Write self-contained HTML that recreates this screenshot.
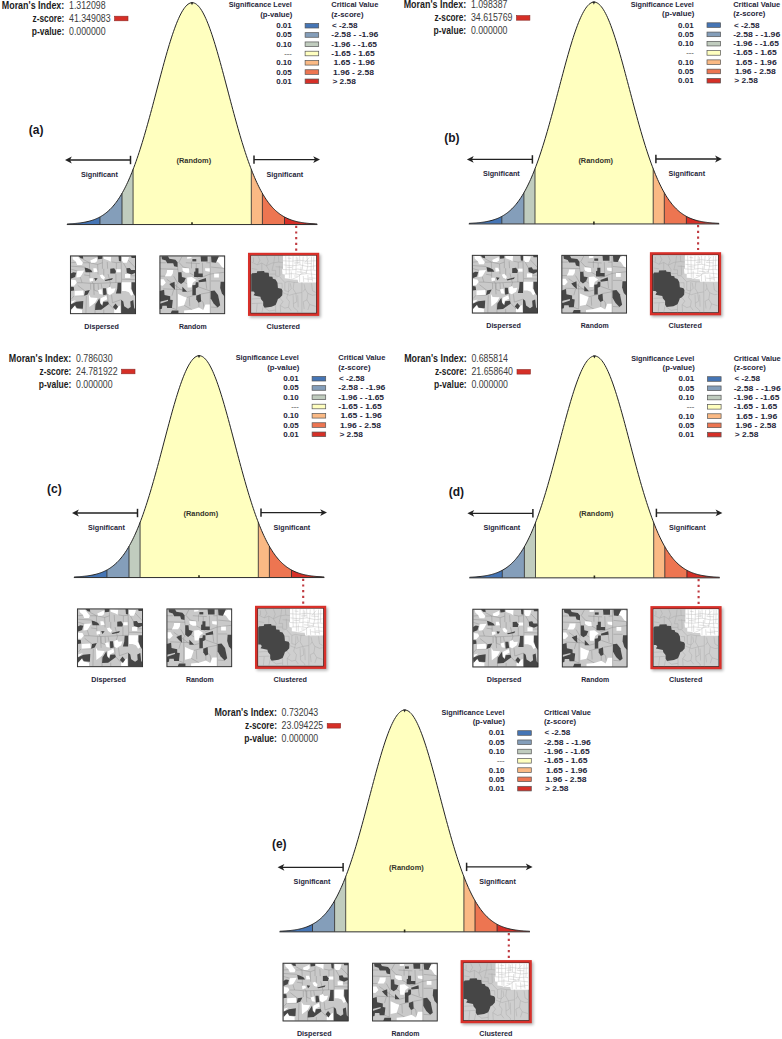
<!DOCTYPE html>
<html>
<head>
<meta charset="utf-8">
<title>Spatial Autocorrelation Report</title>
<style>
html,body{margin:0;padding:0;background:#ffffff;}
body{width:782px;height:1039px;overflow:hidden;}
svg{display:block;font-family:"Liberation Sans", sans-serif;}
text{font-family:"Liberation Sans", sans-serif;}
</style>
</head>
<body>
<svg width="782" height="1039" viewBox="0 0 782 1039">
<defs><filter id="sh" x="-20%" y="-20%" width="150%" height="150%"><feGaussianBlur stdDeviation="1.6"/></filter>
<g id="P">
<text x="64.30" y="8.60" font-size="10" font-weight="bold" text-anchor="end" fill="#1c1c1c" textLength="62.50" lengthAdjust="spacingAndGlyphs">Moran's Index:</text>
<text x="64.30" y="21.80" font-size="10" font-weight="bold" text-anchor="end" fill="#1c1c1c" textLength="31.80" lengthAdjust="spacingAndGlyphs">z-score:</text>
<rect x="114.6" y="16.2" width="13.4" height="4.6" fill="#D62F27" stroke="#8c2a26" stroke-width="0.6"/>
<text x="64.30" y="35.00" font-size="10" font-weight="bold" text-anchor="end" fill="#1c1c1c" textLength="32.60" lengthAdjust="spacingAndGlyphs">p-value:</text>
<text x="69.00" y="35.00" font-size="10" font-weight="normal" text-anchor="start" fill="#3c3c3c" textLength="36.60" lengthAdjust="spacingAndGlyphs">0.000000</text>
<text x="291.80" y="7.30" font-size="7.5" font-weight="bold" text-anchor="end" fill="#26263a" textLength="63.00" lengthAdjust="spacingAndGlyphs">Significance Level</text>
<text x="292.40" y="17.00" font-size="7.5" font-weight="bold" text-anchor="end" fill="#26263a" textLength="32.20" lengthAdjust="spacingAndGlyphs">(p-value)</text>
<text x="331.30" y="7.30" font-size="7.5" font-weight="bold" text-anchor="start" fill="#26263a" textLength="47.00" lengthAdjust="spacingAndGlyphs">Critical Value</text>
<text x="331.30" y="17.00" font-size="7.5" font-weight="bold" text-anchor="start" fill="#26263a" textLength="32.20" lengthAdjust="spacingAndGlyphs">(z-score)</text>
<text x="291.80" y="28.20" font-size="7.5" font-weight="bold" text-anchor="end" fill="#26263a" textLength="15.60" lengthAdjust="spacingAndGlyphs">0.01</text>
<rect x="305.1" y="23.40" width="13.6" height="4.6" fill="#4575B5" stroke="#555" stroke-width="0.7"/>
<text x="332.00" y="28.20" font-size="7.5" font-weight="bold" text-anchor="start" fill="#26263a" textLength="25.60" lengthAdjust="spacingAndGlyphs">&lt; -2.58</text>
<text x="291.80" y="37.47" font-size="7.5" font-weight="bold" text-anchor="end" fill="#26263a" textLength="15.60" lengthAdjust="spacingAndGlyphs">0.05</text>
<rect x="305.1" y="32.67" width="13.6" height="4.6" fill="#849EBA" stroke="#555" stroke-width="0.7"/>
<text x="331.30" y="37.47" font-size="7.5" font-weight="bold" text-anchor="start" fill="#26263a" textLength="47.00" lengthAdjust="spacingAndGlyphs">-2.58 - -1.96</text>
<text x="291.80" y="46.74" font-size="7.5" font-weight="bold" text-anchor="end" fill="#26263a" textLength="15.60" lengthAdjust="spacingAndGlyphs">0.10</text>
<rect x="305.1" y="41.94" width="13.6" height="4.6" fill="#C0CCBE" stroke="#555" stroke-width="0.7"/>
<text x="331.30" y="46.74" font-size="7.5" font-weight="bold" text-anchor="start" fill="#26263a" textLength="45.70" lengthAdjust="spacingAndGlyphs">-1.96 - -1.65</text>
<text x="291.80" y="56.01" font-size="7.5" font-weight="bold" text-anchor="end" fill="#888" textLength="7.50" lengthAdjust="spacingAndGlyphs">---</text>
<rect x="305.1" y="51.21" width="13.6" height="4.6" fill="#FFFFBF" stroke="#555" stroke-width="0.7"/>
<text x="331.30" y="56.01" font-size="7.5" font-weight="bold" text-anchor="start" fill="#26263a" textLength="43.50" lengthAdjust="spacingAndGlyphs">-1.65 - 1.65</text>
<text x="291.80" y="65.28" font-size="7.5" font-weight="bold" text-anchor="end" fill="#26263a" textLength="15.60" lengthAdjust="spacingAndGlyphs">0.10</text>
<rect x="305.1" y="60.48" width="13.6" height="4.6" fill="#FAB984" stroke="#555" stroke-width="0.7"/>
<text x="333.50" y="65.28" font-size="7.5" font-weight="bold" text-anchor="start" fill="#26263a" textLength="41.30" lengthAdjust="spacingAndGlyphs">1.65 - 1.96</text>
<text x="291.80" y="74.55" font-size="7.5" font-weight="bold" text-anchor="end" fill="#26263a" textLength="15.60" lengthAdjust="spacingAndGlyphs">0.05</text>
<rect x="305.1" y="69.75" width="13.6" height="4.6" fill="#ED7551" stroke="#555" stroke-width="0.7"/>
<text x="333.00" y="74.55" font-size="7.5" font-weight="bold" text-anchor="start" fill="#26263a" textLength="40.90" lengthAdjust="spacingAndGlyphs">1.96 - 2.58</text>
<text x="291.80" y="83.82" font-size="7.5" font-weight="bold" text-anchor="end" fill="#26263a" textLength="15.60" lengthAdjust="spacingAndGlyphs">0.01</text>
<rect x="305.1" y="79.02" width="13.6" height="4.6" fill="#D62F27" stroke="#555" stroke-width="0.7"/>
<text x="332.40" y="83.82" font-size="7.5" font-weight="bold" text-anchor="start" fill="#26263a" textLength="23.50" lengthAdjust="spacingAndGlyphs">&gt; 2.58</text>
<polygon points="67.24,224.40 67.24,223.96 68.05,223.93 68.87,223.89 69.69,223.84 70.50,223.80 71.32,223.75 72.14,223.70 72.95,223.64 73.77,223.58 74.59,223.51 75.40,223.44 76.22,223.37 77.04,223.28 77.85,223.20 78.67,223.10 79.49,223.01 80.30,222.90 81.12,222.79 81.94,222.67 82.75,222.54 83.57,222.40 84.39,222.25 85.20,222.10 86.02,221.93 86.84,221.76 87.65,221.57 88.47,221.37 89.28,221.16 90.10,220.94 90.92,220.70 91.73,220.45 92.55,220.18 93.37,219.90 94.18,219.60 95.00,219.29 95.82,218.95 96.63,218.60 97.45,218.23 98.27,217.84 99.08,217.43 99.90,216.99 99.90,224.40" fill="#4575B5"/>
<polygon points="99.90,224.40 99.90,216.99 100.45,216.69 101.00,216.37 101.56,216.04 102.11,215.70 102.66,215.35 103.21,214.99 103.77,214.61 104.32,214.22 104.87,213.82 105.42,213.41 105.98,212.98 106.53,212.54 107.08,212.09 107.63,211.62 108.19,211.13 108.74,210.64 109.29,210.12 109.84,209.59 110.40,209.05 110.95,208.48 111.50,207.90 112.05,207.31 112.61,206.70 113.16,206.07 113.71,205.42 114.26,204.75 114.82,204.07 115.37,203.37 115.92,202.64 116.47,201.90 117.03,201.14 117.58,200.36 118.13,199.56 118.68,198.74 119.24,197.90 119.79,197.03 120.34,196.15 120.89,195.24 121.45,194.32 122.00,193.37 122.00,224.40" fill="#849EBA"/>
<polygon points="122.00,224.40 122.00,193.37 122.28,192.88 122.55,192.39 122.83,191.89 123.11,191.39 123.39,190.88 123.66,190.37 123.94,189.85 124.22,189.33 124.50,188.79 124.77,188.26 125.05,187.72 125.33,187.17 125.61,186.61 125.88,186.05 126.16,185.49 126.44,184.91 126.72,184.34 126.99,183.75 127.27,183.16 127.55,182.57 127.83,181.96 128.10,181.36 128.38,180.74 128.66,180.12 128.94,179.50 129.21,178.86 129.49,178.23 129.77,177.58 130.05,176.93 130.32,176.28 130.60,175.61 130.88,174.95 131.16,174.27 131.44,173.59 131.71,172.90 131.99,172.21 132.27,171.51 132.54,170.81 132.82,170.10 133.10,169.38 133.10,224.40" fill="#C0CCBE"/>
<polygon points="133.10,224.40 133.10,169.38 136.05,161.37 139.01,152.70 141.96,143.40 144.92,133.53 147.88,123.17 150.83,112.40 153.78,101.36 156.74,90.16 159.69,78.96 162.65,67.92 165.60,57.21 168.56,47.01 171.51,37.49 174.47,28.83 177.42,21.19 180.38,14.72 183.33,9.54 186.29,5.77 189.25,3.47 192.20,2.70 195.16,3.47 198.11,5.77 201.06,9.54 204.02,14.72 206.97,21.19 209.93,28.83 212.88,37.49 215.84,47.01 218.79,57.21 221.75,67.92 224.70,78.96 227.66,90.16 230.61,101.36 233.57,112.40 236.53,123.17 239.48,133.53 242.44,143.40 245.39,152.70 248.34,161.37 251.30,169.38 251.30,224.40" fill="#FFFFBF"/>
<polygon points="251.30,224.40 251.30,169.38 251.58,170.10 251.85,170.81 252.13,171.51 252.41,172.21 252.69,172.90 252.96,173.59 253.24,174.27 253.52,174.95 253.80,175.61 254.07,176.28 254.35,176.93 254.63,177.58 254.91,178.23 255.19,178.86 255.46,179.50 255.74,180.12 256.02,180.74 256.30,181.36 256.57,181.96 256.85,182.57 257.13,183.16 257.40,183.75 257.68,184.34 257.96,184.91 258.24,185.49 258.51,186.05 258.79,186.61 259.07,187.17 259.35,187.72 259.62,188.26 259.90,188.79 260.18,189.33 260.46,189.85 260.74,190.37 261.01,190.88 261.29,191.39 261.57,191.89 261.84,192.39 262.12,192.88 262.40,193.37 262.40,224.40" fill="#FAB984"/>
<polygon points="262.40,224.40 262.40,193.37 262.95,194.32 263.50,195.24 264.06,196.15 264.61,197.03 265.16,197.90 265.71,198.74 266.27,199.56 266.82,200.36 267.37,201.14 267.93,201.90 268.48,202.64 269.03,203.37 269.58,204.07 270.13,204.75 270.69,205.42 271.24,206.07 271.79,206.70 272.35,207.31 272.90,207.90 273.45,208.48 274.00,209.05 274.56,209.59 275.11,210.12 275.66,210.64 276.21,211.13 276.76,211.62 277.32,212.09 277.87,212.54 278.42,212.98 278.98,213.41 279.53,213.82 280.08,214.22 280.63,214.61 281.18,214.99 281.74,215.35 282.29,215.70 282.84,216.04 283.39,216.37 283.95,216.69 284.50,216.99 284.50,224.40" fill="#ED7551"/>
<polygon points="284.50,224.40 284.50,216.99 285.32,217.43 286.13,217.84 286.95,218.23 287.77,218.60 288.58,218.95 289.40,219.29 290.22,219.60 291.03,219.90 291.85,220.18 292.67,220.45 293.48,220.70 294.30,220.94 295.12,221.16 295.93,221.37 296.75,221.57 297.56,221.76 298.38,221.93 299.20,222.10 300.01,222.25 300.83,222.40 301.65,222.54 302.46,222.67 303.28,222.79 304.10,222.90 304.91,223.01 305.73,223.10 306.55,223.20 307.36,223.28 308.18,223.37 309.00,223.44 309.81,223.51 310.63,223.58 311.45,223.64 312.26,223.70 313.08,223.75 313.90,223.80 314.71,223.84 315.53,223.89 316.35,223.93 317.16,223.96 317.16,224.40" fill="#D62F27"/>
<line x1="99.90" y1="216.99" x2="99.90" y2="224.40" stroke="#222" stroke-width="0.8"/>
<line x1="122.00" y1="193.37" x2="122.00" y2="224.40" stroke="#222" stroke-width="0.8"/>
<line x1="133.10" y1="169.38" x2="133.10" y2="224.40" stroke="#222" stroke-width="0.8"/>
<line x1="251.30" y1="169.38" x2="251.30" y2="224.40" stroke="#222" stroke-width="0.8"/>
<line x1="262.40" y1="193.37" x2="262.40" y2="224.40" stroke="#222" stroke-width="0.8"/>
<line x1="284.50" y1="216.99" x2="284.50" y2="224.40" stroke="#222" stroke-width="0.8"/>
<polyline points="67.24,223.96 68.28,223.92 69.32,223.86 70.36,223.81 71.40,223.74 72.44,223.67 73.49,223.60 74.53,223.52 75.57,223.43 76.61,223.33 77.65,223.22 78.69,223.10 79.73,222.97 80.78,222.84 81.82,222.68 82.86,222.52 83.90,222.34 84.94,222.15 85.98,221.94 87.02,221.72 88.06,221.47 89.11,221.21 90.15,220.92 91.19,220.62 92.23,220.29 93.27,219.93 94.31,219.55 95.35,219.15 96.40,218.71 97.44,218.24 98.48,217.74 99.52,217.20 100.56,216.63 101.60,216.01 102.64,215.36 103.69,214.67 104.73,213.93 105.77,213.15 106.81,212.31 107.85,211.43 108.89,210.50 109.93,209.50 110.97,208.46 112.02,207.35 113.06,206.19 114.10,204.96 115.14,203.66 116.18,202.30 117.22,200.87 118.26,199.37 119.31,197.79 120.35,196.14 121.39,194.42 122.43,192.61 123.47,190.73 124.51,188.77 125.55,186.72 126.59,184.59 127.64,182.38 128.68,180.08 129.72,177.70 130.76,175.23 131.80,172.68 132.84,170.04 133.88,167.32 134.93,164.51 135.97,161.62 137.01,158.64 138.05,155.59 139.09,152.45 140.13,149.24 141.17,145.95 142.22,142.59 143.26,139.15 144.30,135.65 145.34,132.09 146.38,128.46 147.42,124.78 148.46,121.05 149.50,117.27 150.55,113.45 151.59,109.60 152.63,105.71 153.67,101.79 154.71,97.86 155.75,93.91 156.79,89.95 157.84,86.00 158.88,82.05 159.92,78.12 160.96,74.21 162.00,70.32 163.04,66.48 164.08,62.67 165.12,58.92 166.17,55.23 167.21,51.60 168.25,48.05 169.29,44.59 170.33,41.21 171.37,37.93 172.41,34.76 173.46,31.70 174.50,28.76 175.54,25.95 176.58,23.27 177.62,20.73 178.66,18.33 179.70,16.09 180.75,14.01 181.79,12.09 182.83,10.34 183.87,8.75 184.91,7.35 185.95,6.13 186.99,5.09 188.03,4.23 189.08,3.56 190.12,3.08 191.16,2.80 192.20,2.70 193.24,2.80 194.28,3.08 195.32,3.56 196.37,4.23 197.41,5.09 198.45,6.13 199.49,7.35 200.53,8.75 201.57,10.34 202.61,12.09 203.65,14.01 204.70,16.09 205.74,18.33 206.78,20.73 207.82,23.27 208.86,25.95 209.90,28.76 210.94,31.70 211.99,34.76 213.03,37.93 214.07,41.21 215.11,44.59 216.15,48.05 217.19,51.60 218.23,55.23 219.28,58.92 220.32,62.67 221.36,66.48 222.40,70.32 223.44,74.21 224.48,78.12 225.52,82.05 226.56,86.00 227.61,89.95 228.65,93.91 229.69,97.86 230.73,101.79 231.77,105.71 232.81,109.60 233.85,113.45 234.90,117.27 235.94,121.05 236.98,124.78 238.02,128.46 239.06,132.09 240.10,135.65 241.14,139.15 242.18,142.59 243.23,145.95 244.27,149.24 245.31,152.45 246.35,155.59 247.39,158.64 248.43,161.62 249.47,164.51 250.52,167.32 251.56,170.04 252.60,172.68 253.64,175.23 254.68,177.70 255.72,180.08 256.76,182.38 257.81,184.59 258.85,186.72 259.89,188.77 260.93,190.73 261.97,192.61 263.01,194.42 264.05,196.14 265.09,197.79 266.14,199.37 267.18,200.87 268.22,202.30 269.26,203.66 270.30,204.96 271.34,206.19 272.38,207.35 273.43,208.46 274.47,209.50 275.51,210.50 276.55,211.43 277.59,212.31 278.63,213.15 279.67,213.93 280.71,214.67 281.76,215.36 282.80,216.01 283.84,216.63 284.88,217.20 285.92,217.74 286.96,218.24 288.00,218.71 289.05,219.15 290.09,219.55 291.13,219.93 292.17,220.29 293.21,220.62 294.25,220.92 295.29,221.21 296.33,221.47 297.38,221.72 298.42,221.94 299.46,222.15 300.50,222.34 301.54,222.52 302.58,222.68 303.62,222.84 304.67,222.97 305.71,223.10 306.75,223.22 307.79,223.33 308.83,223.43 309.87,223.52 310.91,223.60 311.96,223.67 313.00,223.74 314.04,223.81 315.08,223.86 316.12,223.92 317.16,223.96" fill="none" stroke="#242424" stroke-width="1.0"/>
<line x1="66.84" y1="224.55" x2="317.36" y2="224.55" stroke="#2e2e2e" stroke-width="1.0"/>
<line x1="192.00" y1="222.20" x2="192.00" y2="225.00" stroke="#2a2a1a" stroke-width="1.6"/>
<polygon points="190.60,2.20 193.40,2.20 192.00,5.30" fill="#222"/>
<line x1="68" y1="160.00" x2="130.5" y2="160.00" stroke="#222" stroke-width="1.3"/>
<line x1="130.5" y1="155.80" x2="130.5" y2="164.20" stroke="#222" stroke-width="1.5"/>
<polygon points="65.0,160.00 71.8,156.60 70.0,160.00 71.8,163.40" fill="#222"/>
<line x1="254.0" y1="159.60" x2="317" y2="159.60" stroke="#222" stroke-width="1.3"/>
<line x1="254.0" y1="155.40" x2="254.0" y2="163.80" stroke="#222" stroke-width="1.5"/>
<polygon points="320.0,159.60 313.2,156.20 315.0,159.60 313.2,163.00" fill="#222"/>
<text x="193.80" y="163.20" font-size="7.5" font-weight="bold" text-anchor="middle" fill="#33332a" textLength="34.60" lengthAdjust="spacingAndGlyphs">(Random)</text>
<text x="81.00" y="176.90" font-size="7.5" font-weight="bold" text-anchor="start" fill="#26263a" textLength="36.80" lengthAdjust="spacingAndGlyphs">Significant</text>
<text x="266.60" y="176.90" font-size="7.5" font-weight="bold" text-anchor="start" fill="#26263a" textLength="36.60" lengthAdjust="spacingAndGlyphs">Significant</text>
<line x1="296.2" y1="225.7" x2="296.2" y2="251.5" stroke="#bf3a40" stroke-width="2.1" stroke-dasharray="2.2 3.5"/>
<g transform="translate(70,255.5)"><rect x="0" y="0" width="66" height="58.6" fill="#c9c9c9"/><polyline points="19.39,7.22 19.83,22.87 23.30,28.09 24.17,39.39" fill="none" stroke="#858585" stroke-width="0.4"/><polyline points="1.13,10.70 14.61,11.57" fill="none" stroke="#858585" stroke-width="0.4"/><polyline points="32.43,3.74 32.43,13.30" fill="none" stroke="#858585" stroke-width="0.4"/><polyline points="37.22,6.35 37.65,13.30" fill="none" stroke="#858585" stroke-width="0.4"/><polyline points="41.57,6.35 46.35,7.22 51.13,6.78" fill="none" stroke="#858585" stroke-width="0.4"/><polyline points="51.13,5.91 51.57,26.78" fill="none" stroke="#858585" stroke-width="0.4"/><polyline points="12.00,27.22 23.30,28.09 40.70,27.22 51.57,26.78" fill="none" stroke="#858585" stroke-width="0.4"/><polyline points="40.70,27.22 37.22,38.09" fill="none" stroke="#858585" stroke-width="0.4"/><polyline points="16.35,40.26 15.91,57.65" fill="none" stroke="#858585" stroke-width="0.4"/><polyline points="28.09,28.09 28.52,34.61" fill="none" stroke="#858585" stroke-width="0.4"/><polyline points="33.74,13.30 33.74,19.83" fill="none" stroke="#858585" stroke-width="0.4"/><polyline points="7.65,29.83 15.48,35.91" fill="none" stroke="#858585" stroke-width="0.4"/><polyline points="27.65,8.96 28.09,18.96" fill="none" stroke="#858585" stroke-width="0.4"/><polyline points="45.91,18.52 45.91,27.22" fill="none" stroke="#858585" stroke-width="0.4"/><polyline points="52.00,23.74 65.48,24.17" fill="none" stroke="#858585" stroke-width="0.4"/><polyline points="37.65,40.26 38.09,45.91" fill="none" stroke="#858585" stroke-width="0.4"/><polyline points="41.57,39.39 42.43,47.22 51.13,44.17" fill="none" stroke="#858585" stroke-width="0.4"/><polyline points="1.13,13.74 7.22,15.48" fill="none" stroke="#858585" stroke-width="0.4"/><polyline points="12.87,7.22 19.39,7.22 27.65,8.96 32.43,7.22" fill="none" stroke="#858585" stroke-width="0.4"/><polyline points="10.26,21.57 12.00,27.22" fill="none" stroke="#858585" stroke-width="0.4"/><polyline points="14.17,19.39 19.83,20.26" fill="none" stroke="#858585" stroke-width="0.4"/><polyline points="38.09,18.52 40.26,27.22" fill="none" stroke="#858585" stroke-width="0.4"/><polyline points="58.09,4.61 65.48,12.43" fill="none" stroke="#858585" stroke-width="0.4"/><polyline points="24.17,28.09 24.17,34.61 28.09,35.91" fill="none" stroke="#858585" stroke-width="0.4"/><polyline points="20.70,28.09 20.70,34.17" fill="none" stroke="#858585" stroke-width="0.4"/><polyline points="31.13,28.09 32.00,32.87" fill="none" stroke="#858585" stroke-width="0.4"/><polyline points="5.04,40.26 14.17,40.26" fill="none" stroke="#858585" stroke-width="0.4"/><polyline points="53.30,7.22 56.35,12.87" fill="none" stroke="#858585" stroke-width="0.4"/><polyline points="1.13,7.22 5.91,6.78" fill="none" stroke="#858585" stroke-width="0.4"/><polyline points="12.87,3.74 19.39,7.22" fill="none" stroke="#858585" stroke-width="0.4"/><polyline points="46.35,7.22 46.35,13.74" fill="none" stroke="#858585" stroke-width="0.4"/><polyline points="60.26,20.26 65.48,20.26" fill="none" stroke="#858585" stroke-width="0.4"/><polyline points="6.78,27.22 12.00,27.22" fill="none" stroke="#858585" stroke-width="0.4"/><polyline points="4.17,40.26 1.13,43.74" fill="none" stroke="#858585" stroke-width="0.4"/><polyline points="37.22,38.09 37.65,40.26" fill="none" stroke="#858585" stroke-width="0.4"/><polyline points="25.04,47.22 25.04,57.65" fill="none" stroke="#858585" stroke-width="0.4"/><polyline points="38.96,48.52 44.17,54.17" fill="none" stroke="#858585" stroke-width="0.4"/><polyline points="33.74,54.17 33.74,57.65" fill="none" stroke="#858585" stroke-width="0.4"/><polygon points="2.43,1.13 8.09,1.13 12.87,7.22 12.00,9.39 7.22,9.39 5.91,6.35 2.87,3.74" fill="#ffffff"/><polygon points="20.26,5.04 26.78,2.00 27.22,5.48 25.04,7.22 21.13,7.22" fill="#ffffff"/><polygon points="33.30,0.70 41.13,1.13 40.70,6.35 38.52,5.04 33.74,3.30" fill="#ffffff"/><polygon points="52.00,1.13 58.96,1.57 58.09,4.61 56.78,7.22 53.30,7.22 52.00,5.04" fill="#ffffff"/><polygon points="23.30,12.87 26.35,12.87 27.65,16.35 23.74,16.78" fill="#ffffff"/><polygon points="7.22,15.48 14.17,15.04 12.00,18.96 10.26,21.57 6.35,22.00" fill="#ffffff"/><polygon points="29.83,19.83 32.43,18.96 35.04,22.00 33.74,24.17 31.13,22.43" fill="#ffffff"/><polygon points="46.35,13.74 50.70,13.74 50.70,16.78 46.35,16.78" fill="#ffffff"/><polygon points="55.04,18.52 60.26,18.52 60.26,22.43 55.04,22.43" fill="#ffffff"/><polygon points="1.13,24.17 5.48,24.61 6.78,27.22 4.17,30.26 1.13,30.26" fill="#ffffff"/><polygon points="19.39,22.87 22.87,22.87 23.30,25.48 19.83,26.35" fill="#ffffff"/><polygon points="52.00,26.78 61.13,26.78 60.70,33.30 63.74,38.52 61.13,40.26 58.96,36.78 55.48,35.48 52.00,35.48" fill="#ffffff"/><polygon points="37.22,32.43 40.26,31.13 41.57,33.30 45.48,32.87 44.17,36.78 39.83,39.39 37.22,38.09" fill="#ffffff"/><polygon points="28.09,34.61 31.57,33.74 32.43,38.96 29.39,38.52" fill="#ffffff"/><polygon points="4.61,35.48 13.30,35.04 13.74,39.83 4.61,40.26" fill="#ffffff"/><polygon points="18.96,38.96 20.70,42.00 27.65,42.43 25.04,47.22 19.39,51.57" fill="#ffffff"/><polygon points="30.70,42.87 36.35,40.26 37.22,43.74 32.87,45.91 32.00,49.83 30.26,47.22" fill="#ffffff"/><polygon points="1.13,45.91 5.91,44.61 1.57,48.52" fill="#ffffff"/><polygon points="1.13,52.43 4.17,49.83 6.35,52.87 12.00,54.17 12.00,57.65 1.13,57.65" fill="#ffffff"/><polygon points="44.17,54.17 50.26,49.83 50.70,57.65 44.17,57.65" fill="#ffffff"/><polygon points="8.52,0.43 12.87,0.43 13.30,3.30 10.70,2.87" fill="#464646"/><polygon points="27.65,0.43 32.43,0.43 32.43,3.30 28.09,3.74" fill="#464646"/><polygon points="48.52,0.43 51.13,0.43 51.13,5.91 48.96,5.48" fill="#464646"/><polygon points="61.13,0.43 65.48,0.43 65.48,2.43 61.57,2.43" fill="#464646"/><polygon points="14.61,12.00 17.65,12.87 21.13,14.61 22.43,16.78 15.48,16.78" fill="#464646"/><polygon points="40.26,13.30 44.17,12.87 45.91,15.48 45.48,18.09 40.26,18.09" fill="#464646"/><polygon points="56.35,12.87 59.83,12.43 61.13,14.61 65.04,14.61 65.48,17.22 61.57,18.96 56.78,17.22" fill="#464646"/><polygon points="0.70,18.09 3.30,16.78 6.35,17.22 5.04,21.57 0.70,23.30" fill="#464646"/><polygon points="24.17,22.43 27.65,22.87 25.48,25.48" fill="#464646"/><polygon points="34.61,24.61 42.87,22.43 42.00,24.17 35.48,25.48" fill="#464646"/><polygon points="0.70,31.13 3.74,31.57 4.17,35.04 0.70,35.48" fill="#464646"/><polygon points="15.04,35.48 19.83,34.61 17.65,38.96 14.17,40.26" fill="#464646"/><polygon points="32.87,32.87 35.91,32.87 36.78,38.96 33.30,39.83" fill="#464646"/><polygon points="47.65,27.22 51.13,27.22 51.13,38.09 45.91,38.09 47.22,33.30" fill="#464646"/><polygon points="61.57,26.78 65.48,26.78 65.48,41.13 63.30,38.09 61.57,33.30" fill="#464646"/><polygon points="0.70,48.96 6.35,46.35 13.30,45.48 12.87,53.30 6.78,52.87 5.04,49.83 1.13,54.17" fill="#464646"/><polygon points="29.39,42.87 30.26,48.09 32.43,50.26 33.30,46.35 38.09,45.91 38.96,48.52 31.13,54.17 25.04,54.61 25.48,48.96" fill="#464646"/><polygon points="45.48,48.09 48.09,51.13 45.91,54.61 42.87,51.57" fill="#464646"/><polygon points="51.13,44.17 53.30,45.91 54.17,50.70 58.09,53.30 60.70,51.57 60.26,45.91 63.30,44.61 64.17,52.43 65.74,54.17 65.74,58.09 51.13,58.09" fill="#464646"/><rect x="0.45" y="0.45" width="65.1" height="57.7" fill="none" stroke="#333" stroke-width="0.95"/></g>
<g transform="translate(159.5,255.5)"><rect x="0" y="0" width="65.6" height="58.6" fill="#c9c9c9"/><polyline points="50.70,0.70 50.70,58.09" fill="none" stroke="#858585" stroke-width="0.4"/><polyline points="19.39,6.78 23.74,11.57 29.83,12.87" fill="none" stroke="#858585" stroke-width="0.4"/><polyline points="29.83,17.22 39.39,22.87 50.70,18.52 65.04,16.78" fill="none" stroke="#858585" stroke-width="0.4"/><polyline points="0.70,13.30 18.52,13.74" fill="none" stroke="#858585" stroke-width="0.4"/><polyline points="17.22,28.52 17.22,54.17" fill="none" stroke="#858585" stroke-width="0.4"/><polyline points="3.74,33.30 22.87,34.17" fill="none" stroke="#858585" stroke-width="0.4"/><polyline points="27.22,42.00 36.78,39.39 43.74,47.22" fill="none" stroke="#858585" stroke-width="0.4"/><polyline points="26.35,7.22 40.26,8.09" fill="none" stroke="#858585" stroke-width="0.4"/><polyline points="42.87,7.22 43.30,18.09" fill="none" stroke="#858585" stroke-width="0.4"/><polyline points="39.39,31.57 50.70,35.48" fill="none" stroke="#858585" stroke-width="0.4"/><polyline points="29.83,42.00 30.26,50.70" fill="none" stroke="#858585" stroke-width="0.4"/><polyline points="14.17,20.70 18.70,28.52" fill="none" stroke="#858585" stroke-width="0.4"/><polyline points="7.22,23.74 22.87,35.04" fill="none" stroke="#858585" stroke-width="0.4"/><polyline points="51.57,25.48 60.70,25.48" fill="none" stroke="#858585" stroke-width="0.4"/><polyline points="22.43,1.13 19.39,6.78" fill="none" stroke="#858585" stroke-width="0.4"/><polyline points="32.00,5.91 32.00,12.87" fill="none" stroke="#858585" stroke-width="0.4"/><polyline points="36.78,8.09 36.78,12.87" fill="none" stroke="#858585" stroke-width="0.4"/><polyline points="46.78,7.22 50.70,7.22" fill="none" stroke="#858585" stroke-width="0.4"/><polyline points="0.70,20.70 5.48,20.70" fill="none" stroke="#858585" stroke-width="0.4"/><polyline points="51.57,11.57 65.04,12.87" fill="none" stroke="#858585" stroke-width="0.4"/><polyline points="41.57,38.52 50.70,36.78" fill="none" stroke="#858585" stroke-width="0.4"/><polyline points="43.74,47.22 44.61,54.17" fill="none" stroke="#858585" stroke-width="0.4"/><polyline points="24.61,49.83 32.43,54.17" fill="none" stroke="#858585" stroke-width="0.4"/><polyline points="14.17,34.17 12.43,40.26" fill="none" stroke="#858585" stroke-width="0.4"/><polyline points="27.65,36.35 32.87,35.04" fill="none" stroke="#858585" stroke-width="0.4"/><polyline points="46.35,25.91 47.22,33.30" fill="none" stroke="#858585" stroke-width="0.4"/><polyline points="24.61,26.35 27.65,28.52" fill="none" stroke="#858585" stroke-width="0.4"/><polyline points="51.57,51.57 58.09,52.00" fill="none" stroke="#858585" stroke-width="0.4"/><polyline points="18.09,11.57 18.70,16.78" fill="none" stroke="#858585" stroke-width="0.4"/><polyline points="22.00,16.78 23.30,15.48" fill="none" stroke="#858585" stroke-width="0.4"/><polyline points="0.26,7.22 6.35,7.22" fill="none" stroke="#858585" stroke-width="0.4"/><polyline points="12.43,52.43 17.22,54.17" fill="none" stroke="#858585" stroke-width="0.4"/><polyline points="39.39,47.22 39.39,52.00" fill="none" stroke="#858585" stroke-width="0.4"/><polygon points="27.65,1.13 32.00,1.13 32.00,2.87 27.65,3.30" fill="#ffffff"/><polygon points="58.52,2.43 61.57,1.13 65.04,2.00 65.04,12.87 62.43,11.57 59.39,7.22 56.78,5.91" fill="#ffffff"/><polygon points="22.87,12.43 29.39,12.87 29.83,17.22 26.35,17.22 23.30,15.48" fill="#ffffff"/><polygon points="45.48,12.87 50.26,12.87 50.26,16.35 45.91,15.48" fill="#ffffff"/><polygon points="7.65,14.61 13.74,14.61 13.30,18.09 11.57,20.70 5.48,20.70 7.22,17.22" fill="#ffffff"/><polygon points="54.61,18.09 59.39,18.09 59.39,22.00 54.61,22.00" fill="#ffffff"/><polygon points="27.65,22.00 32.43,21.57 36.78,24.61 33.30,27.22 32.00,32.00 28.09,32.00 27.65,26.35" fill="#ffffff"/><polygon points="0.70,23.74 4.17,23.74 6.35,27.22 3.30,30.26 0.70,29.83" fill="#ffffff"/><polygon points="18.52,38.52 24.61,41.13 27.22,42.00 24.61,49.83 18.52,51.13" fill="#ffffff"/><polygon points="24.61,55.04 32.43,54.17 39.39,52.00 43.74,54.61 45.91,48.96 50.26,48.96 50.26,57.65 24.61,57.65" fill="#ffffff"/><polygon points="2.00,0.70 8.52,0.70 9.83,3.30 15.91,4.17 18.09,6.78 18.09,11.57 14.61,10.70 13.74,7.65 7.65,7.65 6.35,5.04 2.43,3.74" fill="#464646"/><polygon points="32.87,3.57 36.78,3.57 36.78,5.91 32.87,5.91" fill="#464646"/><polygon points="41.13,0.70 48.09,0.70 48.09,5.91 41.57,5.91" fill="#464646"/><polygon points="51.57,0.70 59.39,0.70 56.35,7.22 52.00,6.78" fill="#464646"/><polygon points="35.91,12.87 38.96,12.87 38.96,18.09 43.30,18.09 43.30,21.57 34.61,21.57 34.61,16.35 35.91,15.91" fill="#464646"/><polygon points="18.70,16.78 22.00,16.78 22.43,21.57 26.35,22.43 24.61,26.35 21.57,28.52 18.70,26.35" fill="#464646"/><polygon points="38.96,25.04 46.35,22.43 46.78,25.91 39.39,26.78" fill="#464646"/><polygon points="9.83,28.52 15.04,26.35 15.48,34.17 12.43,31.57" fill="#464646"/><polygon points="22.87,31.13 27.65,36.35 22.87,36.35" fill="#464646"/><polygon points="32.87,29.83 35.91,29.39 36.35,26.78 38.96,26.78 38.96,31.57 36.35,32.87 36.35,39.39 32.87,39.83" fill="#464646"/><polygon points="36.78,40.26 41.13,38.52 41.57,45.91 38.96,47.22 36.78,43.74" fill="#464646"/><polygon points="51.13,35.48 55.04,35.04 58.52,39.39 60.70,49.83 58.09,52.00 54.17,48.09 51.13,42.87" fill="#464646"/><polygon points="61.13,26.35 65.30,26.35 65.30,41.13 62.43,38.09 60.70,32.43" fill="#464646"/><polygon points="0.26,35.48 4.61,34.17 5.04,39.39 10.70,40.70 10.70,44.17 13.30,44.61 12.43,52.43 7.65,52.43 7.22,50.26 2.87,50.26 2.43,53.30 0.26,53.74" fill="#464646"/><polygon points="12.43,55.04 18.96,55.04 18.96,58.09 11.13,58.09" fill="#464646"/><polygon points="0.43,46.17 8.52,44.17 8.52,45.48 0.43,48.26" fill="#c9c9c9"/><rect x="0.45" y="0.45" width="64.7" height="57.7" fill="none" stroke="#333" stroke-width="0.95"/></g>
<g transform="translate(248,252.8)"><rect x="1.6" y="1.8" width="71.2" height="63" fill="#000" opacity="0.30" filter="url(#sh)"/><rect x="0" y="0" width="71.2" height="63.1" fill="#D8302A"/><rect x="2.5" y="2.5" width="66.2" height="58.1" fill="#2a2a2a"/><rect x="3.1" y="3.1" width="65.0" height="56.9" fill="#cfcfcf"/><polygon points="3.22,3.07 34.99,3.07 34.99,16.69 34.07,21.30 27.62,26.82 3.22,21.30" fill="#c8c8c8"/><polygon points="34.99,3.07 68.05,3.07 68.05,29.59 50.18,29.59 49.72,27.01 43.28,26.82 41.44,25.90 36.83,25.44 36.83,21.76 34.53,21.30 34.07,16.69 34.99,16.23" fill="#ffffff"/><polyline points="34.99,7.95 43.28,8.41 51.57,7.49 58.93,8.41 67.68,7.95" fill="none" stroke="#bdbdbd" stroke-width="0.45"/><polyline points="35.45,12.09 44.20,13.01 51.57,12.09 60.77,13.93 67.68,13.01" fill="none" stroke="#bdbdbd" stroke-width="0.45"/><polyline points="34.53,16.69 43.28,17.15 49.72,16.23 57.09,17.62 64.46,17.15 67.68,17.62" fill="none" stroke="#bdbdbd" stroke-width="0.45"/><polyline points="36.83,21.30 44.20,20.84 51.57,21.76 58.93,20.84 67.68,21.76" fill="none" stroke="#bdbdbd" stroke-width="0.45"/><polyline points="37.75,3.34 38.21,21.30" fill="none" stroke="#bdbdbd" stroke-width="0.45"/><polyline points="40.98,3.34 41.44,25.44" fill="none" stroke="#bdbdbd" stroke-width="0.45"/><polyline points="45.12,3.34 44.66,16.69" fill="none" stroke="#bdbdbd" stroke-width="0.45"/><polyline points="48.34,3.80 47.88,21.30" fill="none" stroke="#bdbdbd" stroke-width="0.45"/><polyline points="51.57,3.34 52.03,12.09" fill="none" stroke="#bdbdbd" stroke-width="0.45"/><polyline points="55.25,3.80 54.33,16.69" fill="none" stroke="#bdbdbd" stroke-width="0.45"/><polyline points="58.93,3.34 59.85,13.01 58.01,21.30" fill="none" stroke="#bdbdbd" stroke-width="0.45"/><polyline points="63.54,3.80 63.08,17.62 64.46,28.66" fill="none" stroke="#bdbdbd" stroke-width="0.45"/><polyline points="43.28,26.82 49.72,24.06 53.41,20.84 58.93,19.00" fill="none" stroke="#bdbdbd" stroke-width="0.45"/><polyline points="51.57,22.22 51.57,29.13" fill="none" stroke="#bdbdbd" stroke-width="0.45"/><polyline points="55.25,23.14 55.71,29.13" fill="none" stroke="#bdbdbd" stroke-width="0.45"/><polyline points="59.85,22.22 60.31,29.13" fill="none" stroke="#bdbdbd" stroke-width="0.45"/><polyline points="39.59,5.18 43.28,5.64" fill="none" stroke="#bdbdbd" stroke-width="0.45"/><polyline points="46.04,10.25 51.57,9.79" fill="none" stroke="#bdbdbd" stroke-width="0.45"/><polyline points="56.17,10.25 63.54,10.71" fill="none" stroke="#bdbdbd" stroke-width="0.45"/><polyline points="38.67,14.39 44.20,14.85" fill="none" stroke="#bdbdbd" stroke-width="0.45"/><polyline points="48.80,19.00 55.25,19.46" fill="none" stroke="#bdbdbd" stroke-width="0.45"/><polyline points="60.77,24.98 67.68,25.44" fill="none" stroke="#bdbdbd" stroke-width="0.45"/><polyline points="49.72,4.72 49.72,11.17" fill="none" stroke="#bdbdbd" stroke-width="0.45"/><polyline points="61.23,4.72 57.09,9.33" fill="none" stroke="#bdbdbd" stroke-width="0.45"/><polyline points="52.95,13.93 52.95,20.38" fill="none" stroke="#bdbdbd" stroke-width="0.45"/><polyline points="43.28,18.54 43.28,25.90" fill="none" stroke="#bdbdbd" stroke-width="0.45"/><polyline points="65.84,3.80 65.38,16.69" fill="none" stroke="#bdbdbd" stroke-width="0.45"/><polyline points="56.17,25.90 64.46,26.82" fill="none" stroke="#bdbdbd" stroke-width="0.45"/><polyline points="46.04,23.14 49.72,23.32" fill="none" stroke="#bdbdbd" stroke-width="0.45"/><polygon points="3.22,21.76 4.14,20.38 8.75,20.19 9.21,18.35 16.11,18.08 16.57,19.64 20.72,19.92 21.18,23.60 24.40,24.06 24.86,25.90 27.62,26.82 29.47,30.05 29.93,35.11 33.61,36.03 34.53,37.87 34.25,42.48 31.77,45.24 29.93,46.16 29.01,48.92 27.62,52.15 23.48,53.99 16.57,54.91 15.19,52.61 15.19,48.92 12.89,46.16 12.43,43.86 5.52,42.48 6.91,40.17 5.52,38.79 3.22,38.79" fill="#464646"/><polyline points="53.87,29.59 53.87,60.16" fill="none" stroke="#a4a4a4" stroke-width="0.4"/><polyline points="3.68,9.33 9.21,12.09 13.81,10.25 18.42,13.01 23.94,10.25 30.39,9.33 34.81,9.79" fill="none" stroke="#a4a4a4" stroke-width="0.4"/><polyline points="10.13,3.34 11.97,7.49 9.21,12.09" fill="none" stroke="#a4a4a4" stroke-width="0.4"/><polyline points="18.42,3.34 20.26,8.41 18.42,13.01" fill="none" stroke="#a4a4a4" stroke-width="0.4"/><polyline points="26.70,3.34 25.78,10.25 23.94,17.62" fill="none" stroke="#a4a4a4" stroke-width="0.4"/><polyline points="30.39,3.34 30.85,9.33" fill="none" stroke="#a4a4a4" stroke-width="0.4"/><polyline points="18.42,13.01 21.18,17.62 20.72,19.92" fill="none" stroke="#a4a4a4" stroke-width="0.4"/><polyline points="23.94,17.62 27.62,17.62 27.62,23.14 31.31,23.60" fill="none" stroke="#a4a4a4" stroke-width="0.4"/><polyline points="21.18,21.30 27.62,21.30" fill="none" stroke="#a4a4a4" stroke-width="0.4"/><polyline points="31.31,13.01 31.77,23.14" fill="none" stroke="#a4a4a4" stroke-width="0.4"/><polyline points="27.62,13.93 34.81,14.39" fill="none" stroke="#a4a4a4" stroke-width="0.4"/><polyline points="31.31,23.60 34.07,26.82 36.83,29.59 40.52,28.66 46.04,29.59 50.18,29.59" fill="none" stroke="#a4a4a4" stroke-width="0.4"/><polyline points="30.39,30.51 34.07,30.51 34.25,35.57" fill="none" stroke="#a4a4a4" stroke-width="0.4"/><polyline points="36.83,29.59 36.83,37.87 40.52,38.79 40.98,29.59" fill="none" stroke="#a4a4a4" stroke-width="0.4"/><polyline points="40.52,38.79 38.67,45.24 41.44,48.92 40.52,54.45 43.28,58.13" fill="none" stroke="#a4a4a4" stroke-width="0.4"/><polyline points="34.53,39.71 41.44,42.48 47.88,40.64 53.87,39.71" fill="none" stroke="#a4a4a4" stroke-width="0.4"/><polyline points="46.04,29.59 45.12,36.03 47.88,40.64" fill="none" stroke="#a4a4a4" stroke-width="0.4"/><polyline points="45.12,42.48 45.58,54.45 49.72,58.13 49.72,60.16" fill="none" stroke="#a4a4a4" stroke-width="0.4"/><polyline points="49.72,42.48 50.18,54.45" fill="none" stroke="#a4a4a4" stroke-width="0.4"/><polyline points="31.77,45.24 34.99,48.92 32.23,52.61 36.83,55.37 40.52,54.45" fill="none" stroke="#a4a4a4" stroke-width="0.4"/><polyline points="27.62,52.15 27.62,60.16" fill="none" stroke="#a4a4a4" stroke-width="0.4"/><polyline points="32.23,52.61 32.69,60.16" fill="none" stroke="#a4a4a4" stroke-width="0.4"/><polyline points="3.68,46.16 12.43,45.70" fill="none" stroke="#a4a4a4" stroke-width="0.4"/><polyline points="3.68,50.76 14.73,50.30" fill="none" stroke="#a4a4a4" stroke-width="0.4"/><polyline points="9.21,50.76 8.29,60.16" fill="none" stroke="#a4a4a4" stroke-width="0.4"/><polyline points="15.19,53.53 13.81,60.16" fill="none" stroke="#a4a4a4" stroke-width="0.4"/><polyline points="16.57,54.91 21.18,58.13 27.62,57.21" fill="none" stroke="#a4a4a4" stroke-width="0.4"/><polyline points="57.09,36.03 59.85,40.64 58.93,47.08 61.69,51.69 59.85,57.21" fill="none" stroke="#a4a4a4" stroke-width="0.4"/><polyline points="55.25,38.79 57.09,36.03 56.17,31.43" fill="none" stroke="#a4a4a4" stroke-width="0.4"/><polyline points="63.54,30.51 64.46,37.87 67.68,39.71" fill="none" stroke="#a4a4a4" stroke-width="0.4"/><polyline points="58.93,47.08 55.25,48.92 56.17,56.29" fill="none" stroke="#a4a4a4" stroke-width="0.4"/><polyline points="61.69,51.69 67.68,53.53" fill="none" stroke="#a4a4a4" stroke-width="0.4"/><polyline points="59.85,40.64 64.46,42.48 67.68,42.02" fill="none" stroke="#a4a4a4" stroke-width="0.4"/><polyline points="3.68,15.77 9.21,16.69" fill="none" stroke="#a4a4a4" stroke-width="0.4"/><polyline points="13.81,10.25 13.81,18.08" fill="none" stroke="#a4a4a4" stroke-width="0.4"/><polyline points="5.52,4.72 5.52,9.33" fill="none" stroke="#a4a4a4" stroke-width="0.4"/><polyline points="42.36,30.51 43.28,36.03 40.52,38.79" fill="none" stroke="#a4a4a4" stroke-width="0.4"/><polyline points="47.88,40.64 48.80,48.92 45.58,50.76" fill="none" stroke="#a4a4a4" stroke-width="0.4"/></g>
<text x="84.30" y="328.80" font-size="7.5" font-weight="bold" text-anchor="start" fill="#26263a" textLength="34.70" lengthAdjust="spacingAndGlyphs">Dispersed</text>
<text x="178.90" y="328.80" font-size="7.5" font-weight="bold" text-anchor="start" fill="#26263a" textLength="27.90" lengthAdjust="spacingAndGlyphs">Random</text>
<text x="266.60" y="328.80" font-size="7.5" font-weight="bold" text-anchor="start" fill="#26263a" textLength="33.30" lengthAdjust="spacingAndGlyphs">Clustered</text>
</g>
</defs>
<rect x="0" y="0" width="782" height="1039" fill="#ffffff"/>
<g transform="translate(0.00,0.00)">
<use href="#P"/>
<text x="69.00" y="8.60" font-size="10" font-weight="normal" text-anchor="start" fill="#3c3c3c" textLength="36.60" lengthAdjust="spacingAndGlyphs">1.312098</text>
<text x="69.00" y="21.80" font-size="10" font-weight="normal" text-anchor="start" fill="#3c3c3c" textLength="41.60" lengthAdjust="spacingAndGlyphs">41.349083</text>
</g>
<text x="28.80" y="133.60" font-size="12" font-weight="bold" text-anchor="start" fill="#16161e">(a)</text>
<g transform="translate(401.90,-0.60)">
<use href="#P"/>
<text x="69.00" y="8.60" font-size="10" font-weight="normal" text-anchor="start" fill="#3c3c3c" textLength="36.60" lengthAdjust="spacingAndGlyphs">1.098387</text>
<text x="69.00" y="21.80" font-size="10" font-weight="normal" text-anchor="start" fill="#3c3c3c" textLength="41.60" lengthAdjust="spacingAndGlyphs">34.615769</text>
</g>
<text x="444.20" y="141.50" font-size="12" font-weight="bold" text-anchor="start" fill="#16161e">(b)</text>
<g transform="translate(7.00,353.00)">
<use href="#P"/>
<text x="69.00" y="8.60" font-size="10" font-weight="normal" text-anchor="start" fill="#3c3c3c" textLength="36.60" lengthAdjust="spacingAndGlyphs">0.786030</text>
<text x="69.00" y="21.80" font-size="10" font-weight="normal" text-anchor="start" fill="#3c3c3c" textLength="41.60" lengthAdjust="spacingAndGlyphs">24.781922</text>
</g>
<text x="47.00" y="493.30" font-size="12" font-weight="bold" text-anchor="start" fill="#16161e">(c)</text>
<g transform="translate(402.40,353.30)">
<use href="#P"/>
<text x="69.00" y="8.60" font-size="10" font-weight="normal" text-anchor="start" fill="#3c3c3c" textLength="36.60" lengthAdjust="spacingAndGlyphs">0.685814</text>
<text x="69.00" y="21.80" font-size="10" font-weight="normal" text-anchor="start" fill="#3c3c3c" textLength="41.60" lengthAdjust="spacingAndGlyphs">21.658640</text>
</g>
<text x="448.80" y="496.20" font-size="12" font-weight="bold" text-anchor="start" fill="#16161e">(d)</text>
<g transform="translate(212.60,707.30)">
<use href="#P"/>
<text x="69.00" y="8.60" font-size="10" font-weight="normal" text-anchor="start" fill="#3c3c3c" textLength="36.60" lengthAdjust="spacingAndGlyphs">0.732043</text>
<text x="69.00" y="21.80" font-size="10" font-weight="normal" text-anchor="start" fill="#3c3c3c" textLength="41.60" lengthAdjust="spacingAndGlyphs">23.094225</text>
</g>
<text x="271.90" y="848.40" font-size="12" font-weight="bold" text-anchor="start" fill="#16161e">(e)</text>
</svg>
</body>
</html>
